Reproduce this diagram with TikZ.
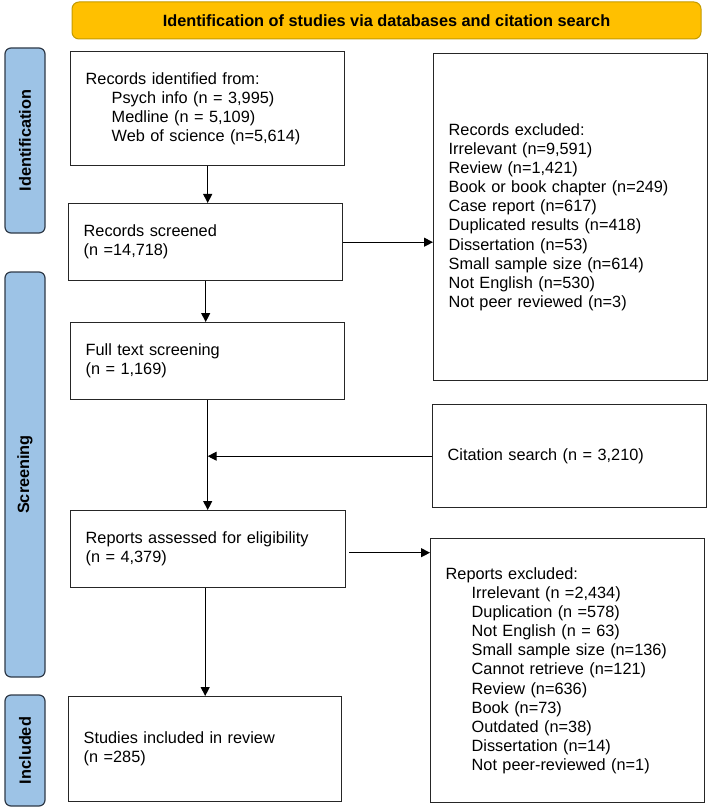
\documentclass[tikz,border=0pt]{standalone}
\usepackage{fontspec}
\setmainfont{Liberation Sans}
\usetikzlibrary{arrows.meta}
\definecolor{hdrfill}{HTML}{FFC000}
\definecolor{hdrdraw}{HTML}{C49B00}
\definecolor{sidefill}{HTML}{9DC3E6}
\definecolor{sidedraw}{HTML}{2F3A48}
\begin{document}
\begin{tikzpicture}[x=1pt,y=-1pt,
  font=\fontsize{16.3}{19.1}\selectfont,
  box/.style={draw=black!85, line width=1.4pt, anchor=north west, inner xsep=15pt, inner ysep=0pt, align=left},
  side/.style={draw=sidedraw, fill=sidefill, line width=1.2pt, rounded corners=6pt, rotate=90, inner sep=0pt, font=\fontsize{16.3}{19.1}\selectfont\bfseries, minimum height=40pt},
  arr/.style={line width=1.1pt, -{Triangle[length=9pt,width=9pt]}}]
\useasboundingbox (0,0) rectangle (709,810);

\node[draw=hdrdraw, fill=hdrfill, rounded corners=7pt, line width=1pt, minimum width=629pt, minimum height=37pt, inner sep=0pt, font=\fontsize{16.3}{19.1}\selectfont\bfseries] (hdr) at (386.5,20.5) {Identification of studies via databases and citation search};

\node[side, minimum width=185pt] (sid) at (25,140.5) {Identification};
\node[side, minimum width=405pt] (sscr) at (25,474.5) {Screening};
\node[side, minimum width=111pt] (sinc) at (25,750.5) {Included};

\node[box, text width=244pt, minimum height=114pt] (b1) at (70,51) {Records identified from:\\\hspace*{26pt}Psych info (n = 3,995)\\\hspace*{26pt}Medline (n = 5,109)\\\hspace*{26pt}Web of science (n=5,614)};
\node[box, text width=244pt, minimum height=77pt] (b2) at (68,203) {Records screened\\(n =14,718)};
\node[box, text width=244pt, minimum height=77pt] (b3) at (70,322) {Full text screening\\(n = 1,169)};
\node[box, text width=245pt, minimum height=77pt] (b4) at (70,510) {Reports assessed for eligibility\\(n = 4,379)};
\node[box, text width=243pt, minimum height=105pt] (b5) at (68,696) {Studies included in review\\(n =285)};

\node[box, text width=244pt, minimum height=327pt] (ex1) at (433,53) {Records excluded:\\Irrelevant (n=9,591)\\Review (n=1,421)\\Book or book chapter (n=249)\\Case report (n=617)\\Duplicated results (n=418)\\Dissertation (n=53)\\Small sample size (n=614)\\Not English (n=530)\\Not peer reviewed (n=3)};
\node[box, text width=244pt, minimum height=103pt] (cit) at (432,404) {Citation search (n = 3,210)};
\node[box, text width=244pt, minimum height=264pt] (ex2) at (430,538) {Reports excluded:\\\hspace*{26pt}Irrelevant (n =2,434)\\\hspace*{26pt}Duplication (n =578)\\\hspace*{26pt}Not English (n = 63)\\\hspace*{26pt}Small sample size (n=136)\\\hspace*{26pt}Cannot retrieve (n=121)\\\hspace*{26pt}Review (n=636)\\\hspace*{26pt}Book (n=73)\\\hspace*{26pt}Outdated (n=38)\\\hspace*{26pt}Dissertation (n=14)\\\hspace*{26pt}Not peer-reviewed (n=1)};

\draw[arr] (b1.south) -- (b1.south |- b2.north);
\draw[arr] (b2.south) -- (b2.south |- b3.north);
\coordinate (j) at (b3.south |- cit.west);
\draw[arr] (b3.south) -- (b3.south |- b4.north);
\draw[arr] (cit.west) -- (j);
\draw[arr] (b5.north |- b4.south) -- (b5.north);
\draw[arr] (b2.east) -- (b2.east -| ex1.west);
\coordinate (e4) at ([shift={(3,3.5)}]b4.east);
\draw[arr] (e4) -- (e4 -| ex2.west);
\end{tikzpicture}
\end{document}
